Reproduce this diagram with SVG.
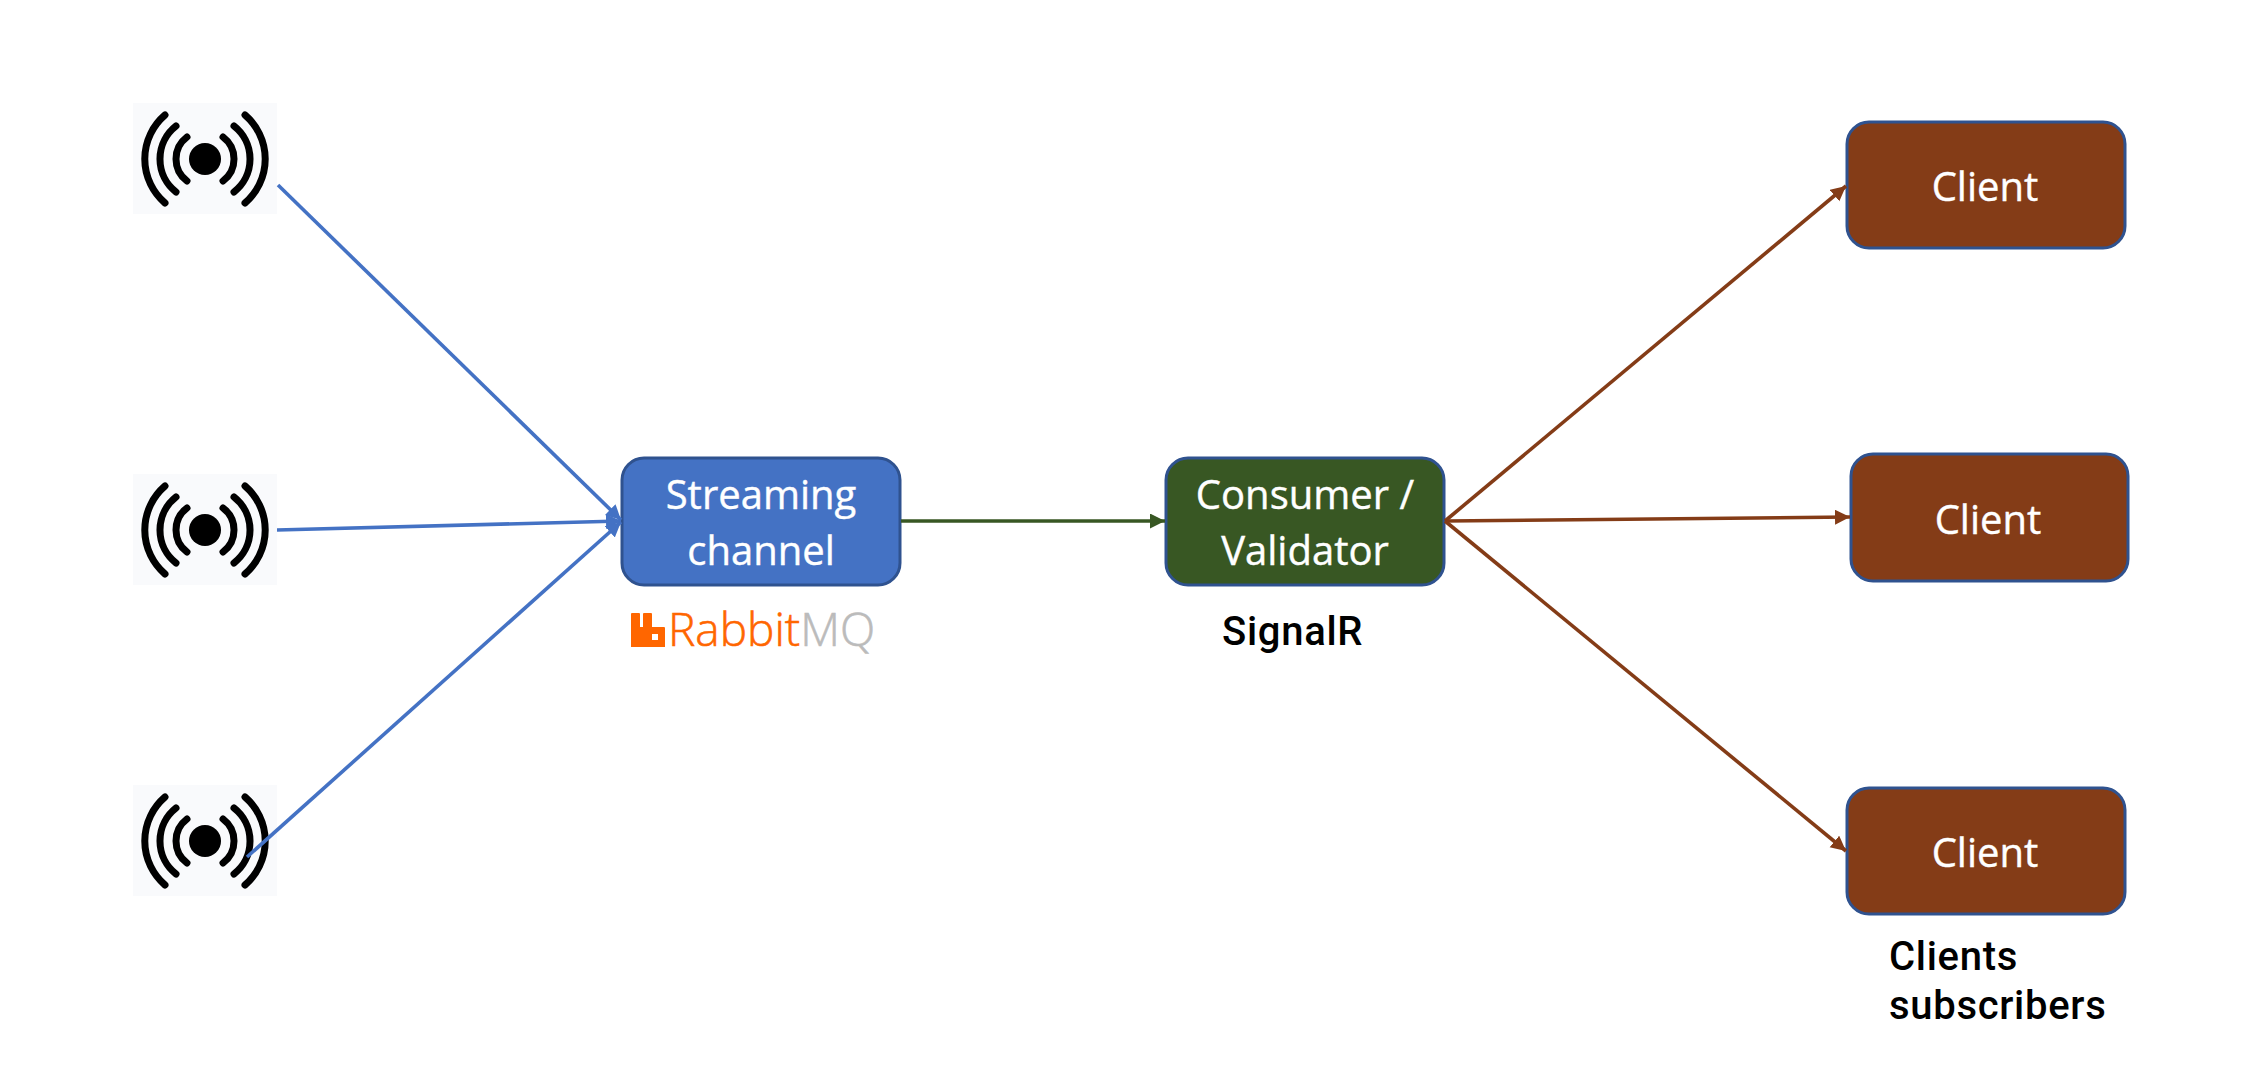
<svg xmlns="http://www.w3.org/2000/svg" width="2264" height="1066" viewBox="0 0 2264 1066">
<style>
.box{stroke:#2F528F;stroke-width:3}
.lbl{font-family:"Open Sans","Noto Sans",sans-serif;font-size:40px;fill:#fff;stroke:#fff;stroke-width:.4;text-anchor:middle}
.note{font-family:"Roboto","Noto Sans",sans-serif;font-weight:500;font-size:40px;letter-spacing:.7px;fill:#000}
.conn{fill:none;stroke-width:3.6}
.arc{fill:none;stroke:#000;stroke-width:7;stroke-linecap:round}
</style>
<defs>
<marker id="ab" markerUnits="userSpaceOnUse" markerWidth="16" markerHeight="16" refX="15" refY="7.5" orient="auto"><path d="M0 0L15 7.5L0 15z" fill="#4472C4"/></marker>
<marker id="ag" markerUnits="userSpaceOnUse" markerWidth="16" markerHeight="16" refX="15" refY="7.5" orient="auto"><path d="M0 0L15 7.5L0 15z" fill="#385723"/></marker>
<marker id="ar" markerUnits="userSpaceOnUse" markerWidth="16" markerHeight="16" refX="15" refY="7.5" orient="auto"><path d="M0 0L15 7.5L0 15z" fill="#843C17"/></marker>
<g id="beacon">
<rect x="-72" y="-56" width="144" height="111" fill="#F9FAFC"/>
<circle r="16" fill="#000"/>
<path class="arc" d="M-40-44A58 58 0 0 0-40 44M-29-33A42 42 0 0 0-29 33M-18-22A27.500 27.500 0 0 0-18 22M40-44A58 58 0 0 1 40 44M29-33A42 42 0 0 1 29 33M18-22A27.500 27.500 0 0 1 18 22"/>
</g>
</defs>
<rect width="2264" height="1066" fill="#fff"/>
<g id="sensor-1"><use href="#beacon" x="205" y="159"/></g>
<g id="sensor-2"><use href="#beacon" x="205" y="530"/></g>
<g id="sensor-3"><use href="#beacon" x="205" y="841"/></g>
<g id="streaming-channel">
<rect class="box" x="622" y="458" width="278" height="127" rx="22" fill="#4472C4"/>
<text class="lbl" x="761" y="509">Streaming</text>
<text class="lbl" x="761" y="565">channel</text>
</g>
<g id="rabbitmq-logo">
<path fill="#FF6600" fill-rule="evenodd" d="M631 614q0-1 1-1h7q1 0 1 1V627h3V614q0-1 1-1h7q1 0 1 1V627h12q1 0 1 1v19h-34zM652 634v6h6v-6z"/>
<text x="668" y="646" font-family="'Open Sans',sans-serif" font-weight="300" font-size="46" fill="#FF6600" stroke="#FF6600" stroke-width=".6">Rabbit<tspan fill="#BBBBBB" stroke="#BBBBBB">MQ</tspan></text>
</g>
<g id="consumer-validator">
<rect class="box" x="1166" y="458" width="278" height="127" rx="22" fill="#385723"/>
<text class="lbl" x="1305" y="509">Consumer /</text>
<text class="lbl" x="1305" y="565">Validator</text>
</g>
<g id="signalr-label"><text class="note" x="1222" y="645">SignalR</text></g>
<g id="client-1">
<rect class="box" x="1847" y="122" width="278" height="126" rx="22" fill="#843C17"/>
<text class="lbl" x="1985" y="201">Client</text>
</g>
<g id="client-2">
<rect class="box" x="1851" y="454" width="277" height="127" rx="22" fill="#843C17"/>
<text class="lbl" x="1988" y="534">Client</text>
</g>
<g id="client-3">
<rect class="box" x="1847" y="788" width="278" height="126" rx="22" fill="#843C17"/>
<text class="lbl" x="1985" y="867">Client</text>
</g>
<g id="clients-label">
<text class="note" x="1889" y="970">Clients</text>
<text class="note" x="1889" y="1019">subscribers</text>
</g>
<g id="connectors">
<path class="conn" stroke="#4472C4" marker-end="url(#ab)" d="M278 185L621 520"/>
<path class="conn" stroke="#4472C4" marker-end="url(#ab)" d="M277 530L621 521"/>
<path class="conn" stroke="#4472C4" marker-end="url(#ab)" d="M247 857L621 522"/>
<path class="conn" stroke="#385723" marker-end="url(#ag)" d="M901 521H1165"/>
<path class="conn" stroke="#843C17" marker-end="url(#ar)" d="M1445 521L1846 186"/>
<path class="conn" stroke="#843C17" marker-end="url(#ar)" d="M1445 521L1850 517"/>
<path class="conn" stroke="#843C17" marker-end="url(#ar)" d="M1445 521L1846 851"/>
</g>
</svg>
